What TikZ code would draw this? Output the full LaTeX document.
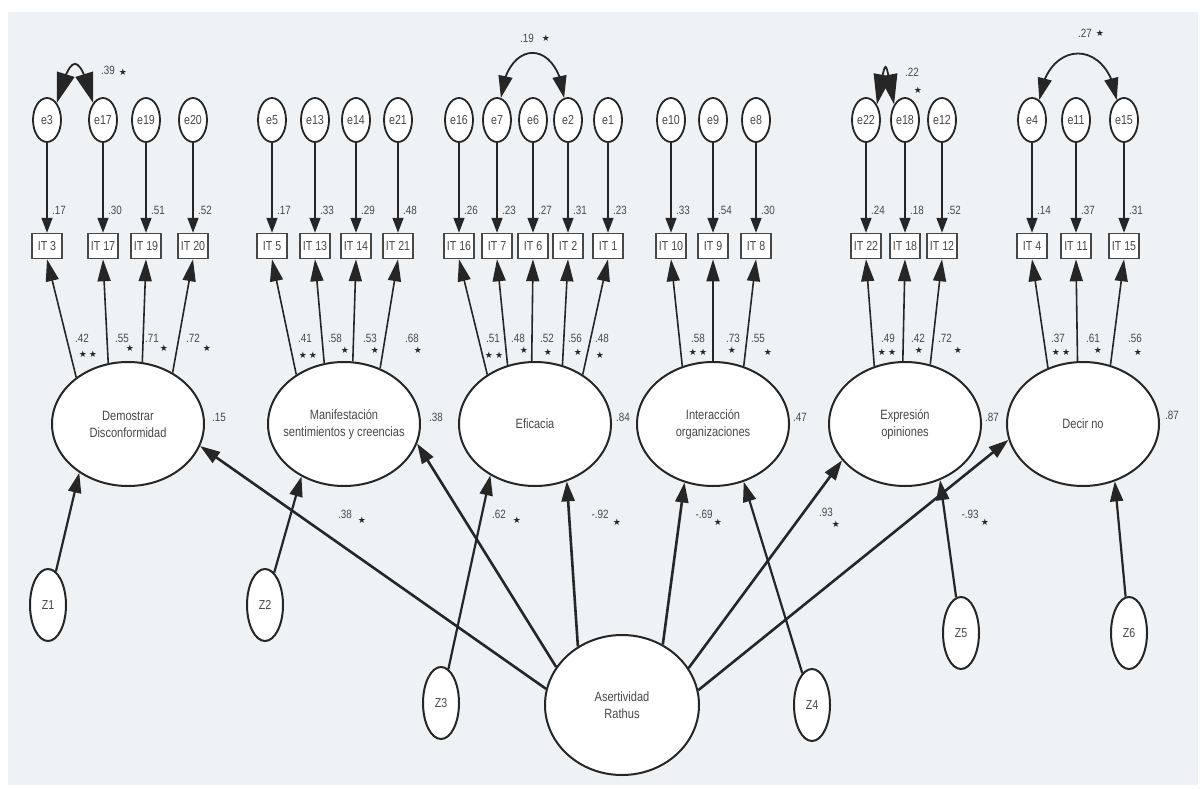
\documentclass[tikz,border=0pt]{standalone}
\usepackage{fontspec}
\setmainfont{Liberation Sans}[FakeStretch=0.82]
\newfontfamily\symfont{DejaVu Sans}
\usetikzlibrary{arrows.meta,bending,shapes.geometric}

\definecolor{panel}{HTML}{EEF2F5}
\definecolor{ink}{HTML}{262626}
\definecolor{txt}{HTML}{484848}
\newcommand\twostar{★\hspace{2pt}★}

\begin{document}
\begin{tikzpicture}[x=1pt,y=-1pt,
    err/.style={ellipse, draw=ink, line width=1.8pt, fill=white, minimum width=28pt, minimum height=44pt, inner sep=0pt, font=\fontsize{13}{13}\selectfont, text=txt},
    item/.style={rectangle, draw=ink!85, line width=1.5pt, fill=white, minimum width=30pt, minimum height=25pt, inner sep=0pt, font=\fontsize{13}{13}\selectfont, text=txt},
    latent/.style={ellipse, draw=ink, line width=2pt, fill=white, minimum width=152pt, minimum height=124pt, align=center, font=\fontsize{13.5}{17}\selectfont, text=txt},
    dist/.style={ellipse, draw=ink, line width=2pt, fill=white, minimum width=36pt, minimum height=72pt, inner sep=0pt, font=\fontsize{13}{13}\selectfont, text=txt},
    val/.style={font=\fontsize{12}{12}\selectfont, text=txt, inner sep=0pt},
    sig/.style={font=\symfont\fontsize{9}{9}\selectfont, text=ink, inner sep=0pt},
    erarrow/.style={-{Triangle[length=15pt,width=11pt]}, line width=1.6pt, draw=ink},
    ldarrow/.style={-{Triangle[length=22pt,width=13pt]}, line width=1.6pt, draw=ink},
    regr/.style={-{Triangle[length=20pt,width=13pt]}, line width=2.6pt, draw=ink},
    cov/.style={{Triangle[length=22pt,width=14pt]}-{Triangle[length=22pt,width=14pt]}, line width=1.8pt, draw=ink},
    tightcov/.style={{Triangle[length=30pt,width=18pt]}-{Triangle[length=30pt,width=18pt]}, line width=1.8pt, draw=ink},
  ]
  % Background panel
  \useasboundingbox (0,0) rectangle (1201,789);
  \fill[panel] (8,12) rectangle (1198,785);

  % Error terms, items and their R2
  \foreach \n/\x/\r in {3/47/.17,17/103/.30,19/146/.51,20/193/.52,
      5/272/.17,13/315/.33,14/356/.29,21/398/.48,
      16/459/.26,7/497/.23,6/533/.27,2/568/.31,1/608/.23,
      10/671/.33,9/713/.54,8/756/.30,
      22/866/.24,18/905/.18,12/942/.52,
      4/1032/.14,11/1076/.37,15/1124/.31}{
    \node[err] (e\n) at (\x,120) {e\n};
    \node[item] (it\n) at (\x,246) {IT \n};
    \draw[erarrow] (e\n) -- (it\n);
    \node[val, anchor=west] (r\n) at ([shift={(5,-22)}]it\n.north) {\r};
  }

  % Factors
  \node[latent] (dd) at (128,424) {Demostrar\\Disconformidad};
  \node[latent, inner xsep=-14pt] (ms) at (344,424) {Manifestación\\sentimientos y creencias};
  \node[latent] (ef) at (535,424) {Eficacia};
  \node[latent] (io) at (713,424) {Interacción\\organizaciones};
  \node[latent] (eo) at (905,424) {Expresión\\opiniones};
  \node[latent] (dn) at (1083,424) {Decir no};
  \node[latent, minimum width=154pt, minimum height=140pt] (ar) at (622,705) {Asertividad\\Rathus};

  % Disturbances
  \node[dist] (z1) at (48,605) {Z1};
  \node[dist] (z2) at (265,605) {Z2};
  \node[dist] (z3) at (441,703) {Z3};
  \node[dist] (z4) at (812,705) {Z4};
  \node[dist] (z5) at (961,633) {Z5};
  \node[dist] (z6) at (1129,633) {Z6};

  % Loadings
  \foreach \a/\n in {138/3,108/17,77/19,49/20} \draw[ldarrow] (dd.\a) -- (it\n.south);
  \foreach \a/\n in {134/5,108/13,82/14,57/21} \draw[ldarrow] (ms.\a) -- (it\n.south);
  \foreach \a/\n in {134/16,115/7,93/6,65/2,46/1} \draw[ldarrow] (ef.\a) -- (it\n.south);
  \foreach \a/\n in {118/10,90/9,62/8} \draw[ldarrow] (io.\a) -- (it\n.south);
  \foreach \a/\n in {118/22,92/18,67/12} \draw[ldarrow] (eo.\a) -- (it\n.south);
  \foreach \a/\n in {122/4,95/11,65/15} \draw[ldarrow] (dn.\a) -- (it\n.south);

  % Second order paths
  \draw[regr] (ar.168) -- (dd.343);
  \draw[regr] (ar.150) -- (ms.345);
  \draw[regr] (ar.127) -- (ef.299);
  \draw[regr] (ar.56) -- (io.244);
  \draw[regr] (ar.29) -- (eo.210);
  \draw[regr] (ar.11) -- (dn.192);
  \draw[regr, line width=2.2pt] (z1) -- (dd.225);
  \draw[regr, line width=2.2pt] (z2) -- (ms.231);
  \draw[regr, line width=2.2pt] (z3) -- (ef.229);
  \draw[regr, line width=2.2pt] (z4) -- (io.298);
  \draw[regr, line width=2.2pt] (z5) -- (eo.302);
  \draw[regr, line width=2.2pt] (z6) -- (dn.299);

  % Covariances
  \draw[tightcov] (e3.60) .. controls +(14,-52) and +(-14,-52) .. (e17.120);
  \draw[cov] (e7.80) .. controls +(6,-60) and +(-6,-60) .. (e2.100);
  \draw[tightcov] (e22.55) .. controls +(10,-50) and +(-10,-50) .. (e18.125);
  \draw[cov] (e4.70) .. controls +(8,-62) and +(-8,-62) .. (e15.110);
  \node[val] (c1) at (108,70) {.39};  \node[sig] (c1s) at (123,72) {★};
  \node[val] (c2) at (527,38) {.19};  \node[sig] (c2s) at (546,38) {★};
  \node[val] (c3) at (912,72) {.22};  \node[sig] (c3s) at (918,90) {★};
  \node[val] (c4) at (1085,33) {.27}; \node[sig] (c4s) at (1100,33) {★};

  % Loading values
  \foreach \t/\x/\s/\sx/\sy in {.42/82/\twostar/88/354,.55/122/★/130/348,.71/152/★/164/348,.72/193/★/207/348,
      .41/305/\twostar/308/355,.58/335/★/345/350,.53/370/★/375/350,.68/412/★/418/350,
      .51/493/\twostar/494/355,.48/518/★/524/350,.52/547/★/548/352,.56/575/★/578/352,.48/602/★/600/355,
      .58/698/\twostar/698/352,.73/733/★/732/350,.55/758/★/768/352,
      .49/888/\twostar/887/352,.42/918/★/919/350,.72/945/★/958/350,
      .37/1058/\twostar/1061/352,.61/1093/★/1098/350,.56/1135/★/1138/352}{
    \node[val] (l\x) at (\x,338) {\t};
    \node[sig] (s\x) at (\sx,\sy) {\s};
  }

  % Path values and residuals
  \foreach \t/\x/\y/\sx/\sy in {.38/345/514/362/520,.62/499/514/517/520,-.92/600/514/617/522,
      -.69/704/514/718/522,.93/826/512/836/524,-.93/970/514/985/522}{
    \node[val] (p\x) at (\x,\y) {\t};
    \node[sig] (q\x) at (\sx,\sy) {★};
  }
  \foreach \t/\x/\y in {.15/219/417,.38/436/417,.84/623/417,.47/800/417,.87/992/417,.87/1172/415}
    \node[val] (u\x) at (\x,\y) {\t};
\end{tikzpicture}
\end{document}
